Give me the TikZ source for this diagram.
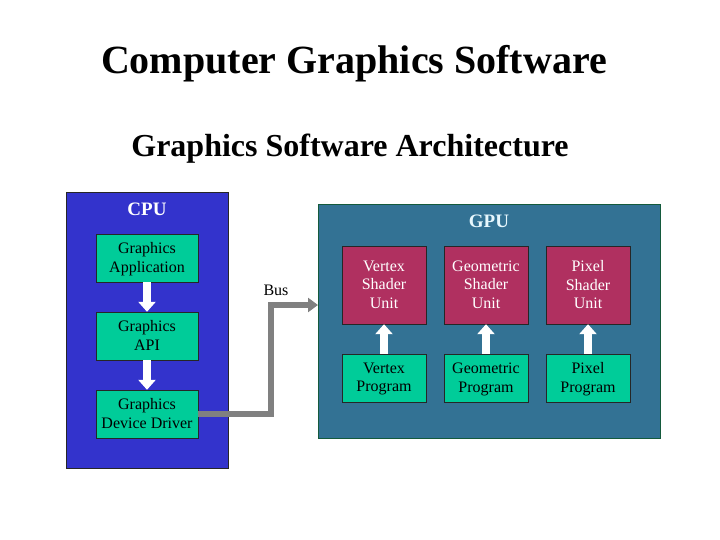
\documentclass[tikz,border=0pt]{standalone}
\usepackage{fontspec}
\setmainfont{Liberation Serif}
\usetikzlibrary{arrows.meta}
\definecolor{cpublue}{RGB}{51,51,204}
\definecolor{gputeal}{RGB}{51,114,148}
\definecolor{gpuedge}{RGB}{20,90,60}
\definecolor{boxgreen}{RGB}{0,204,153}
\definecolor{shaderred}{RGB}{176,48,96}
\definecolor{busgray}{RGB}{128,128,128}
\tikzset{
    panel/.style={draw=black!85, line width=0.8pt},
    label/.style={font=\fontsize{19}{21}\selectfont\bfseries, text=white},
    greenbox/.style={draw=black!85, fill=boxgreen, minimum width=102pt, minimum height=48pt, inner sep=0pt, align=center, text depth=1pt, font=\fontsize{16}{18.5}\selectfont},
    progbox/.style={greenbox, minimum width=84pt},
    shaderbox/.style={draw=black!85, fill=shaderred, text=white, minimum width=84pt, minimum height=78pt, inner sep=0pt, align=center, text depth=1pt, font=\fontsize{16}{18.5}\selectfont},
    whitearrow/.style={draw=white, line width=8pt, -{Triangle[width=17pt,length=10pt]}},
    bus/.style={draw=busgray, line width=6pt, -{Triangle[width=14pt,length=10pt]}}
}
\begin{document}
\begin{tikzpicture}[x=1pt,y=-1pt]
\useasboundingbox[fill=white] (0,0) rectangle (720,540);
% titles
\node[font=\fontsize{40}{44}\selectfont\bfseries] (title) at (354,64) {Computer Graphics Software};
\node[font=\fontsize{32}{36}\selectfont\bfseries] (subtitle) at (350,149) {Graphics Software Architecture};
% CPU side
\draw[panel, fill=cpublue] (66,192) rectangle (228,468);
\node[label] (cpu) at (147,209) {CPU};
\node[greenbox] (app) at (147,258) {Graphics\\Application};
\node[greenbox] (api) at (147,336) {Graphics\\API};
\node[greenbox] (driver) at (147,414) {Graphics\\Device Driver};
\draw[whitearrow] (app.south) -- (api.north);
\draw[whitearrow] (api.south) -- (driver.north);
% GPU side
\draw[panel, draw=gpuedge, fill=gputeal] (318,204) rectangle (660,438);
\coordinate (gpuwest) at (318,305);
\node[label, text=white!90!cyan] (gpu) at (489,221) {GPU};
\node[shaderbox] (vsu) at (384,285) {Vertex\\Shader\\Unit};
\node[shaderbox] (gsu) at (486,285) {Geometric\\Shader\\Unit};
\node[shaderbox] (psu) at (588,285) {Pixel\\Shader\\Unit};
\node[progbox] (vprog) at (384,378) {Vertex\\Program};
\node[progbox] (gprog) at (486,378) {Geometric\\Program};
\node[progbox] (pprog) at (588,378) {Pixel\\Program};
\draw[whitearrow] (vprog.north) -- (vsu.south);
\draw[whitearrow] (gprog.north) -- (gsu.south);
\draw[whitearrow] (pprog.north) -- (psu.south);
% bus
\coordinate (busbend) at (271,305);
\draw[bus] (driver.east) -| (busbend) -- (gpuwest);
\node[font=\fontsize{16}{18}\selectfont] (buslabel) at (276,290) {Bus};
\end{tikzpicture}
\end{document}
